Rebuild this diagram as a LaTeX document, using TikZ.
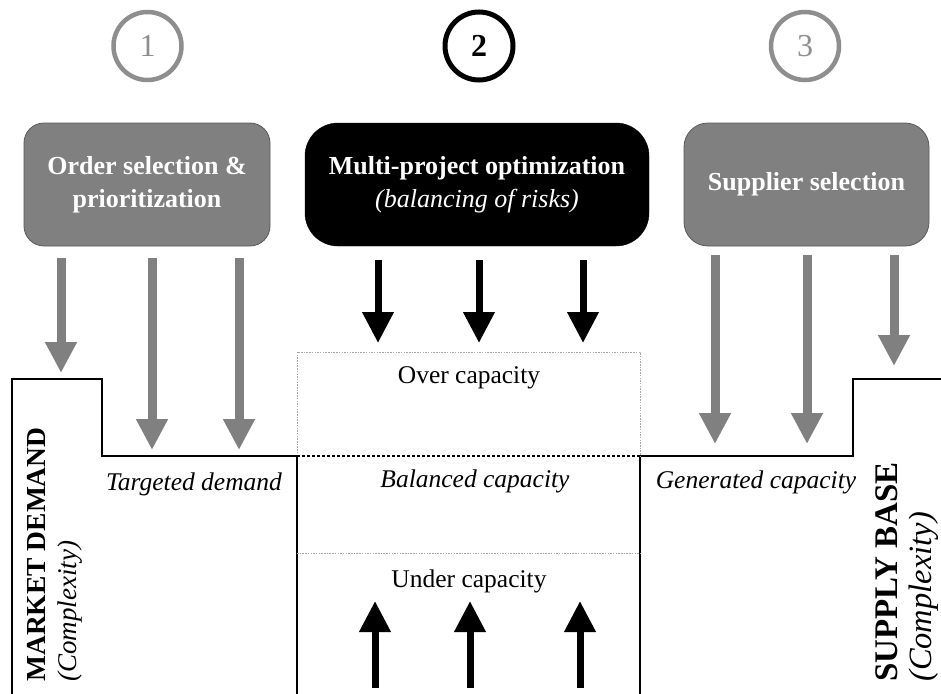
\documentclass[tikz,border=0pt]{standalone}
\usepackage{fontspec}
\setmainfont{Liberation Serif}
\usetikzlibrary{arrows.meta}
\definecolor{boxgray}{HTML}{808080}
\definecolor{ringgray}{HTML}{8E8E8E}
\begin{document}
\begin{tikzpicture}[x=1pt,y=-1pt,
  ring/.style={circle, minimum size=68pt, inner sep=0pt, line width=4.5pt, font=\fontsize{32}{34}\selectfont},
  boxtext/.style={text=white, align=center, inner sep=0pt, font=\fontsize{26}{33}\selectfont\bfseries},
  greybox/.style={boxtext, fill=boxgray, draw=black!65, line width=0.8pt},
  blackbox/.style={boxtext, fill=black, draw=black},
  garrow/.style={draw=boxgray, line width=9pt, -{Triangle[width=30pt,length=31pt]}},
  barrow/.style={draw=black, line width=7pt, -{Triangle[width=30pt,length=31pt]}},
  outline/.style={line width=2.5pt, line join=miter, line cap=rect},
  lbl/.style={font=\fontsize{25.5}{30}\selectfont, inner sep=0pt, anchor=base},
  ilbl/.style={lbl, font=\fontsize{25.5}{30}\selectfont\itshape},
  gdot/.style={draw=black!35, line width=0.9pt, dash pattern=on 1.5pt off 1.2pt},
]
\useasboundingbox (0,0) rectangle (941,693);

% numbered rings
\node[ring, draw=ringgray, text=ringgray] (c1) at (147.5,46) {1};
\node[ring, draw=black, line width=5pt, font=\fontsize{32}{34}\selectfont\bfseries] (c2) at (479,46) {2};
\node[ring, draw=ringgray, text=ringgray] (c3) at (805,46) {3};

% boxes
\node[greybox, rounded corners=20pt, minimum width=246pt, minimum height=123pt] (b1) at (147,184.5)
  {Order selection \&\\prioritization};
\node[blackbox, rounded corners=33pt, minimum width=344pt, minimum height=123pt] (b2) at (477,184.5)
  {Multi-project optimization\\{\mdseries\itshape (balancing of risks)}};
\node[greybox, rounded corners=24pt, minimum width=245pt, minimum height=123pt] (b3) at (806.5,184.5)
  {Supplier selection};

% outlines
\coordinate (mdA) at (12,693);
\coordinate (mdB) at (12,379);
\coordinate (mdC) at (102,379);
\coordinate (mdD) at (102,456);
\coordinate (mdE) at (297,456);
\coordinate (mdF) at (297,693);
\draw[outline] (mdA) -- (mdB) -- (mdC) -- (mdD) -- (mdE) -- (mdF);

\coordinate (sbA) at (640,693);
\coordinate (sbB) at (640,456);
\coordinate (sbC) at (853,456);
\coordinate (sbD) at (853,379);
\coordinate (sbE) at (941,379);
\draw[outline] (sbA) -- (sbB) -- (sbC) -- (sbD) -- (sbE);

% capacity zone
\coordinate (ovA) at (297,456);
\coordinate (ovB) at (297,352);
\coordinate (ovC) at (640,352);
\coordinate (ovD) at (640,456);
\draw[gdot] (ovA) -- (ovB) -- (ovC) -- (ovD);
\coordinate (unA) at (297,553);
\coordinate (unB) at (640,553);
\draw[gdot] (unA) -- (unB);
\draw[line width=2pt, dash pattern=on 3pt off 2pt] (mdE) -- (sbB);

% arrows from box 1
\coordinate (a1s) at (61,258);  \coordinate (a1e) at (61,373);
\coordinate (a2s) at (152,258); \coordinate (a2e) at (152,450);
\coordinate (a3s) at (239,258); \coordinate (a3e) at (239,450);
\draw[garrow] (a1s) -- (a1e);
\draw[garrow] (a2s) -- (a2e);
\draw[garrow] (a3s) -- (a3e);

% arrows from box 2
\coordinate (k1s) at (378,260); \coordinate (k1e) at (378,343);
\coordinate (k2s) at (479,260); \coordinate (k2e) at (479,343);
\coordinate (k3s) at (583,260); \coordinate (k3e) at (583,343);
\draw[barrow] (k1s) -- (k1e);
\draw[barrow] (k2s) -- (k2e);
\draw[barrow] (k3s) -- (k3e);

% arrows up
\coordinate (u1s) at (375,688); \coordinate (u1e) at (375,601);
\coordinate (u2s) at (470,688); \coordinate (u2e) at (470,601);
\coordinate (u3s) at (580,688); \coordinate (u3e) at (580,601);
\draw[barrow] (u1s) -- (u1e);
\draw[barrow] (u2s) -- (u2e);
\draw[barrow] (u3s) -- (u3e);

% arrows from box 3
\coordinate (g1s) at (715,255); \coordinate (g1e) at (715,444);
\coordinate (g2s) at (807,255); \coordinate (g2e) at (807,444);
\coordinate (g3s) at (894,255); \coordinate (g3e) at (894,366);
\draw[garrow] (g1s) -- (g1e);
\draw[garrow] (g2s) -- (g2e);
\draw[garrow] (g3s) -- (g3e);

% labels
\node[lbl] (over) at (469,383) {Over capacity};
\node[ilbl] (bal) at (475,487) {Balanced capacity};
\node[lbl] (under) at (469,587) {Under capacity};
\node[ilbl] (targ) at (194,490) {Targeted demand};
\node[ilbl] (gen) at (756,488) {Generated capacity};

% side labels
\node[rotate=90, anchor=base west, inner sep=0pt, font=\fontsize{27.5}{30}\selectfont\bfseries] (md) at (45,682) {MARKET DEMAND};
\node[rotate=90, anchor=base west, inner sep=0pt, font=\fontsize{27}{30}\selectfont\itshape] (mdc) at (76,682) {(Complexity)};
\node[rotate=90, anchor=base west, inner sep=0pt, font=\fontsize{33}{36}\selectfont\bfseries] (sb) at (897,682) {SUPPLY BASE};
\node[rotate=90, anchor=base west, inner sep=0pt, font=\fontsize{32.5}{36}\selectfont\itshape] (sbc) at (931,682) {(Complexity)};
\end{tikzpicture}
\end{document}
